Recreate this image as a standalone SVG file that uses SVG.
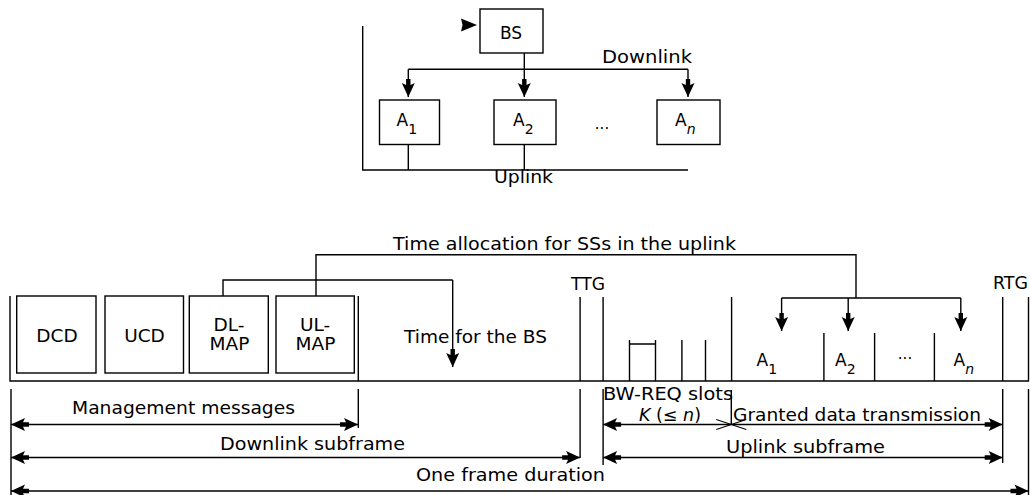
<svg xmlns="http://www.w3.org/2000/svg" width="1030" height="495" viewBox="0 0 1030 495">
<style>
  .ln{stroke:#000;stroke-width:1.4;fill:none}
  .bx{stroke:#000;stroke-width:1.4;fill:#fff}
  text{font-family:"DejaVu Sans","Liberation Sans",sans-serif;font-size:17px;fill:#000}
  .bl{font-size:18.5px;text-anchor:middle}
  .sub{font-size:14px}
  .it{font-style:italic}
  .dots{font-size:15px;text-anchor:middle}
</style>
<defs>
  <marker id="ah" markerUnits="userSpaceOnUse" markerWidth="22" markerHeight="16" viewBox="-20 -8 22 16" refX="0" refY="0" orient="auto-start-reverse">
    <path d="M0,0 L-14,-6.5 L-12,-2.2 L-18,-2.2 L-18,2.2 L-12,2.2 L-14,6.5 Z" fill="#000"/>
  </marker>
  <marker id="oh" markerUnits="userSpaceOnUse" markerWidth="22" markerHeight="16" viewBox="-20 -8 22 16" refX="0" refY="0" orient="auto-start-reverse">
    <path d="M-15,-5 L0,0 L-15,5" fill="none" stroke="#000" stroke-width="1.1"/>
  </marker>
</defs>
<rect width="1030" height="495" fill="#fff"/>

<!-- Top network diagram -->
<g id="bs">
  <rect class="bx" x="480" y="9" width="63" height="44"/>
  <text x="511" y="38.5" style="text-anchor:middle">BS</text>
  <path d="M477,25 L461,18.5 L462.5,25 L461,31.5 Z" fill="#000"/>
</g>
<g id="a1">
  <rect class="bx" x="379.5" y="100" width="60" height="44.5"/>
  <text x="396.5" y="125.5">A<tspan class="sub" dy="8">1</tspan></text>
</g>
<g id="a2">
  <rect class="bx" x="494" y="100" width="62" height="44.5"/>
  <text x="513" y="125.5">A<tspan class="sub" dy="8">2</tspan></text>
</g>
<text class="dots" x="602" y="129">...</text>
<g id="an">
  <rect class="bx" x="657" y="100" width="63" height="44.5"/>
  <text x="675" y="125.5">A<tspan class="sub it" dy="8">n</tspan></text>
</g>
<text x="602" y="63" textLength="90" lengthAdjust="spacingAndGlyphs">Downlink</text>
<text x="494" y="183" textLength="59" lengthAdjust="spacingAndGlyphs">Uplink</text>

<!-- Frame structure nodes -->
<g id="dcd">
  <rect class="bx" x="16.7" y="296" width="79.3" height="77"/>
  <text class="bl" x="57" y="342">DCD</text>
</g>
<g id="ucd">
  <rect class="bx" x="105" y="296" width="78.5" height="77"/>
  <text class="bl" x="144.5" y="342">UCD</text>
</g>
<g id="dlmap">
  <rect class="bx" x="189.3" y="296" width="79" height="77"/>
  <text class="bl" x="229" y="331">DL-</text>
  <text class="bl" x="229.5" y="350">MAP</text>
</g>
<g id="ulmap">
  <rect class="bx" x="276" y="296" width="78.3" height="77"/>
  <text class="bl" x="315" y="331">UL-</text>
  <text class="bl" x="315.5" y="350">MAP</text>
</g>
<g id="frame">
  <path class="ln" d="M10,296 V381 H1029 M358.3,296 V381 M580.1,297 V381 M603.1,297 V381 M731.6,297 V381 M1002.7,297 V381 M1028.5,297 V381"/>
  <path class="ln" d="M629.5,340 V381 M655.5,340 V381 M681.9,340 V381 M705.5,340 V381 M629.5,344 H655.5"/>
  <path class="ln" d="M823.9,333 V381 M874.6,333 V381 M934.4,333 V381"/>
</g>
<g id="labels">
  <text x="393" y="249.5" textLength="343" lengthAdjust="spacingAndGlyphs">Time allocation for SSs in the uplink</text>
  <text x="571" y="290" textLength="34" lengthAdjust="spacingAndGlyphs">TTG</text>
  <text x="993" y="289" textLength="35" lengthAdjust="spacingAndGlyphs">RTG</text>
  <text x="404" y="343" textLength="143" lengthAdjust="spacingAndGlyphs">Time for the BS</text>
  <text x="756.5" y="365.5">A<tspan class="sub" dy="8">1</tspan></text>
  <text x="835" y="365.5">A<tspan class="sub" dy="8">2</tspan></text>
  <text class="dots" x="905" y="359">...</text>
  <text x="953.5" y="365.5">A<tspan class="sub it" dy="8">n</tspan></text>
  <text x="72" y="413.5" textLength="223" lengthAdjust="spacingAndGlyphs">Management messages</text>
  <text x="220" y="450" textLength="185" lengthAdjust="spacingAndGlyphs">Downlink subframe</text>
  <text x="416" y="480.5" textLength="189" lengthAdjust="spacingAndGlyphs">One frame duration</text>
  <text x="603" y="400" textLength="130" lengthAdjust="spacingAndGlyphs">BW-REQ slots</text>
  <text x="639" y="421" textLength="62" lengthAdjust="spacingAndGlyphs"><tspan class="it">K</tspan> (≤ <tspan class="it">n</tspan>)</text>
  <text x="733" y="421" textLength="248" lengthAdjust="spacingAndGlyphs">Granted data transmission</text>
  <text x="726" y="453" textLength="159" lengthAdjust="spacingAndGlyphs">Uplink subframe</text>
</g>

<!-- Connectors -->
<g id="connectors">
  <!-- top -->
  <path class="ln" d="M362.7,26 V170 H688"/>
  <path class="ln" d="M408.3,170 V144.5 M524.3,170 V144.5"/>
  <path class="ln" d="M524.3,53 V69.3 M408.3,69.3 H688"/>
  <path class="ln" d="M408.3,69.3 V97" marker-end="url(#ah)"/>
  <path class="ln" d="M524.3,69.3 V97" marker-end="url(#ah)"/>
  <path class="ln" d="M688,69.3 V97" marker-end="url(#ah)"/>
  <!-- time allocation -->
  <path class="ln" d="M316,296 V254.8 H856 V298 M781.6,298 H960.8"/>
  <path class="ln" d="M223,296 V280 H452.7"/>
  <path class="ln" d="M452.7,280 V367" marker-end="url(#ah)"/>
  <path class="ln" d="M781.6,298 V331" marker-end="url(#ah)"/>
  <path class="ln" d="M848.2,298 V331" marker-end="url(#ah)"/>
  <path class="ln" d="M960.8,298 V331" marker-end="url(#ah)"/>
  <!-- dimension ticks -->
  <path class="ln" d="M11,389 V495 M358.3,389 V428 M580.1,389 V458 M603.1,389 V465 M731.3,390 V424.5 M1002.7,389 V463 M1028.5,389 V495"/>
  <!-- dimension arrows -->
  <path class="ln" d="M11,424.5 H358" marker-start="url(#ah)" marker-end="url(#ah)"/>
  <path class="ln" d="M603.1,424.5 H731.3" marker-start="url(#ah)" marker-end="url(#oh)"/>
  <path class="ln" d="M731.3,424.5 H1002.7" marker-start="url(#oh)" marker-end="url(#ah)"/>
  <path class="ln" d="M11,457.5 H580.1" marker-start="url(#ah)" marker-end="url(#ah)"/>
  <path class="ln" d="M603.1,457.5 H1002.7" marker-start="url(#ah)" marker-end="url(#ah)"/>
  <path class="ln" d="M11,491 H1028.5" marker-start="url(#ah)" marker-end="url(#ah)"/>
</g>
</svg>
